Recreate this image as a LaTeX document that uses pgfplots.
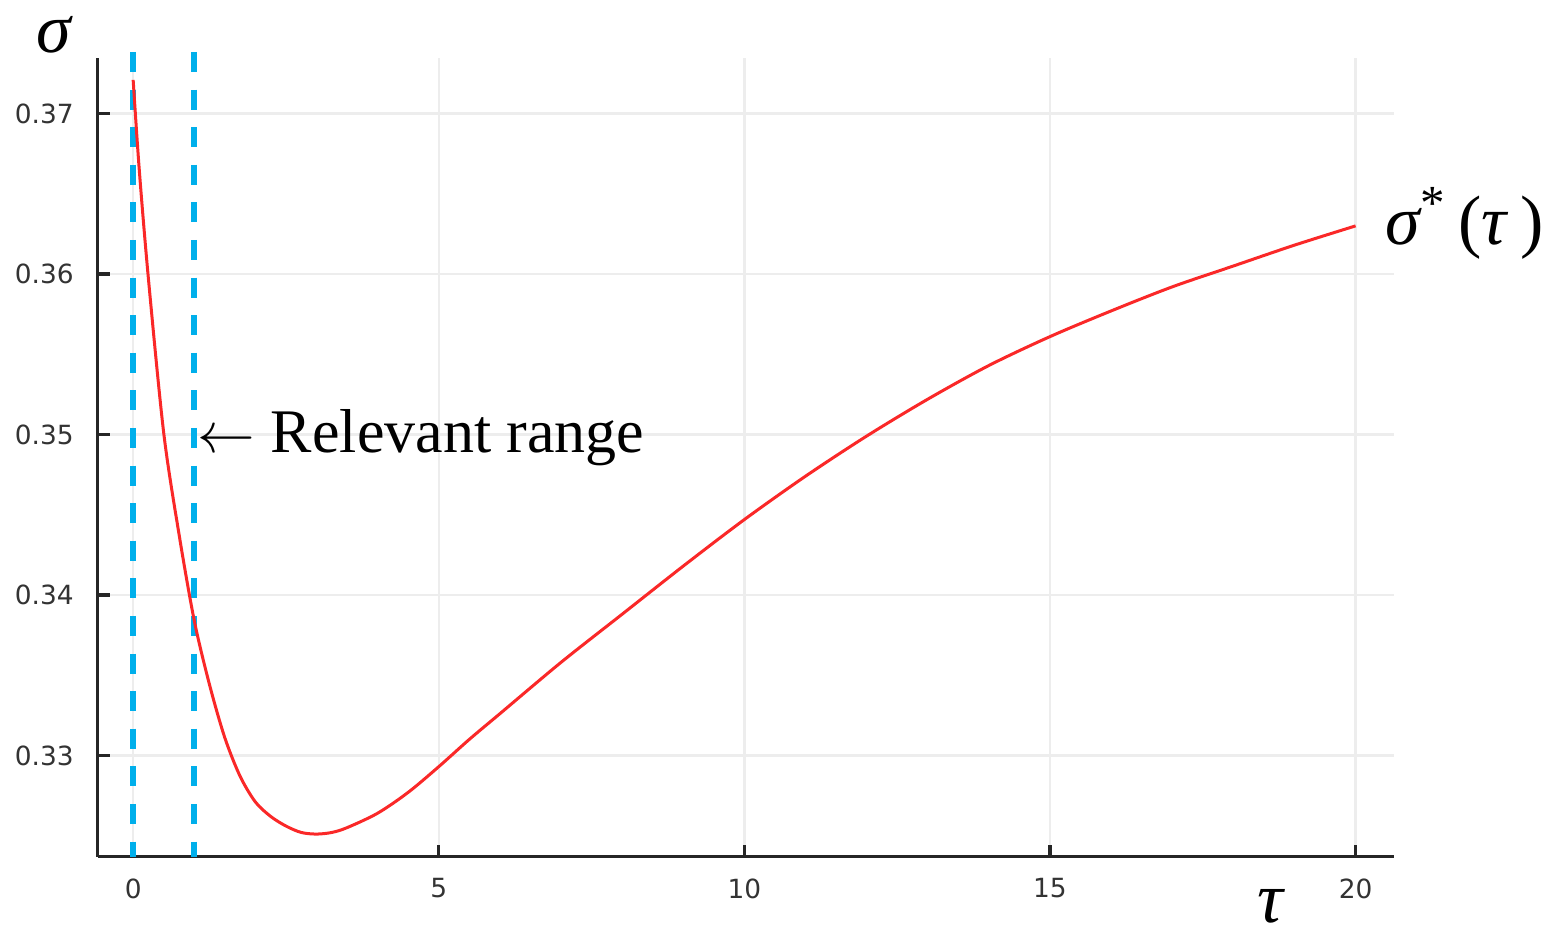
\documentclass[border=0pt]{standalone}
\usepackage{pgfplots}
\pgfplotsset{compat=1.18}
\usepackage{fontspec}
\setmainfont{Liberation Serif}
\newfontfamily\dejavu{DejaVu Sans}
\definecolor{curvered}{RGB}{250,40,40}
\definecolor{dashblue}{RGB}{0,175,235}
\begin{document}
\begin{tikzpicture}
\path[use as bounding box] (0,0) rectangle (388.75pt,233pt);
\begin{axis}[
  at={(24.425pt,18.825pt)}, anchor=south west,
  scale only axis, width=324.1pt, height=199.7pt,
  xmin=-0.58, xmax=20.63, ymin=0.32369, ymax=0.37347,
  axis x line=bottom, axis y line=left,
  axis line style={black!85, line width=0.8pt, -},
  tick style={black!85, line width=0.8pt},
  tick align=inside, major tick length=3pt,
  xtick={0,5,10,15,20}, xticklabels={0,5,10,15,20},
  ytick={0.33,0.34,0.35,0.36,0.37}, yticklabels={0.33,0.34,0.35,0.36,0.37},
  /pgf/number format/assume math mode=true,
  tick label style={font=\dejavu\fontsize{6.6}{8}\selectfont, text=black!80, inner sep=0pt},
  xticklabel style={yshift=-5.3pt},
  yticklabel style={xshift=-5.8pt},
  grid=major, major grid style={black!7, line width=0.6pt},
  clip=false,
]
\addplot[dashblue, line width=1.5pt, dash pattern=on 5pt off 4.4pt] coordinates {(0,0.37384) (0,0.32369)};
\addplot[dashblue, line width=1.5pt, dash pattern=on 5pt off 4.4pt] coordinates {(1,0.37384) (1,0.32369)};
\addplot[curvered, line width=0.75pt, smooth] coordinates {
(0,0.3721) (0.1,0.3665) (0.25,0.3597) (0.5,0.3501) (0.75,0.3438) (1.0,0.3384)
(1.25,0.3344) (1.5,0.3311) (1.75,0.3287) (2.0,0.3271) (2.25,0.3262) (2.5,0.3256)
(2.75,0.3252) (3.0,0.3251) (3.25,0.3252) (3.5,0.3255) (4.0,0.3264) (4.5,0.3277)
(5.0,0.3293) (5.5,0.3310) (6.0,0.3326) (7.0,0.3358) (8.0,0.3388) (9.0,0.3418)
(10.0,0.3447) (11.0,0.3474) (12.0,0.3499) (13.0,0.3522) (14.0,0.3543) (15.0,0.3561)
(16.0,0.3577) (17.0,0.3592) (18.0,0.3605) (19.0,0.3618) (20.0,0.3630)};
\end{axis}
\node[inner sep=0pt] at (13.5pt,224.2pt) {\fontsize{17.5}{20}\selectfont\itshape σ};
\node[inner sep=0pt] at (317.5pt,6.5pt) {\fontsize{18}{20}\selectfont\itshape τ};
\node[inner sep=0pt, anchor=base west] at (49.25pt,119.75pt) {\fontsize{15.5}{18}\selectfont$\leftarrow$ Relevant range};
\node[inner sep=0pt, anchor=base west] at (346.25pt,171.75pt) {\fontsize{17.5}{20}\selectfont{\itshape σ}\textsuperscript{*}\,(\textit{τ}\,)};
\end{tikzpicture}
\end{document}
